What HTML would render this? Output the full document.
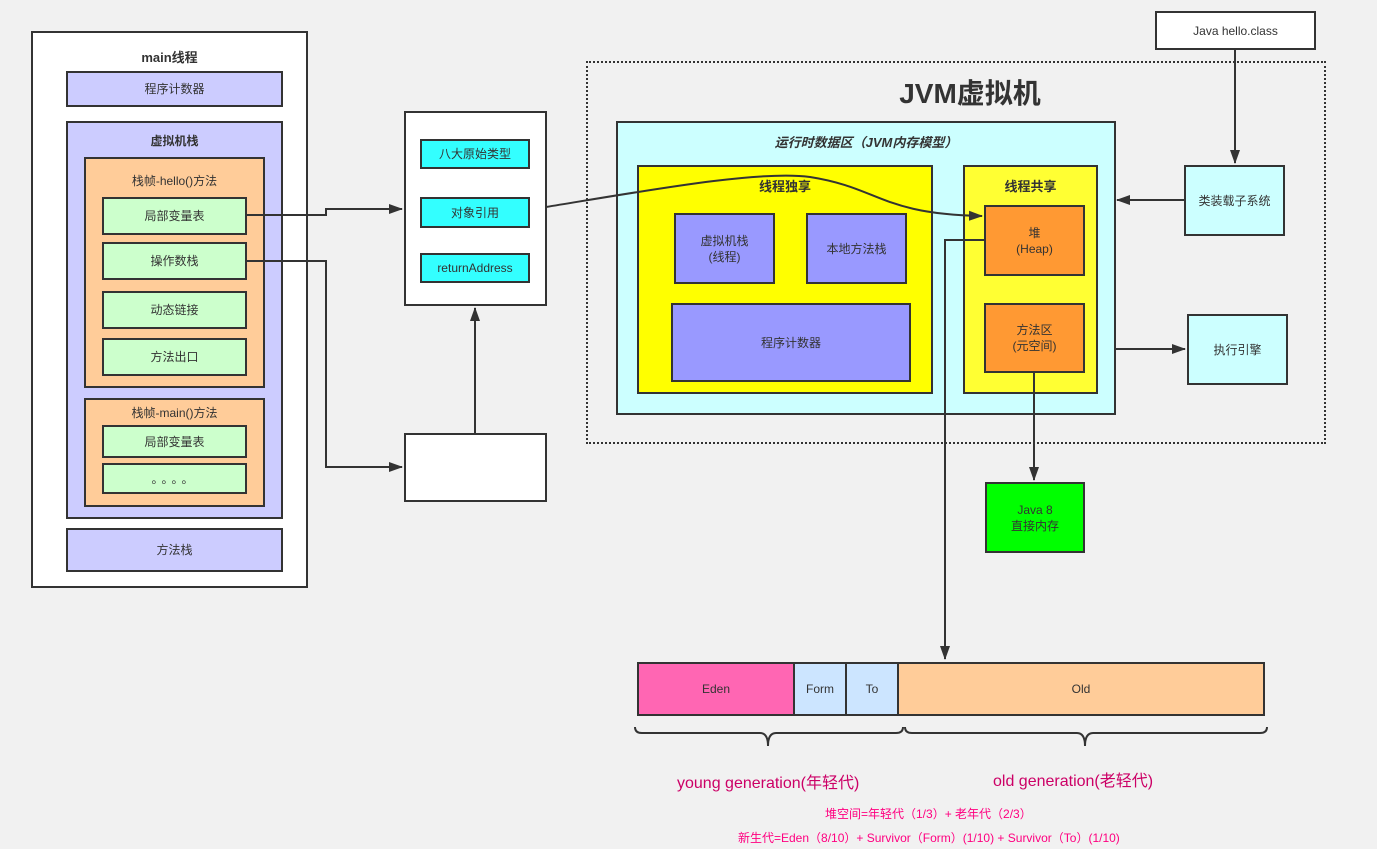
<!DOCTYPE html>
<html><head><meta charset="utf-8"><style>
body{margin:0;width:1377px;height:849px;background:#f1f1f1;position:relative;overflow:hidden;font-family:"Liberation Sans","Noto Sans CJK SC",sans-serif;font-size:12px;color:#333}
.b{position:absolute;box-sizing:border-box;border:2px solid #333;display:flex;align-items:center;justify-content:center;text-align:center;line-height:16px}
.t{position:absolute;white-space:nowrap}
</style></head><body>
<div class="b" style="left:31px;top:31px;width:277px;height:557px;background:#fff"></div>
<div class="t" style="left:31px;width:277px;text-align:center;top:47px;font-weight:bold;font-size:13px">main线程</div>
<div class="b" style="left:66px;top:71px;width:217px;height:36px;background:#ccccff">程序计数器</div>
<div class="b" style="left:66px;top:121px;width:217px;height:398px;background:#ccccff;align-items:flex-start;padding-top:10px;font-weight:bold">虚拟机栈</div>
<div class="b" style="left:84px;top:157px;width:181px;height:231px;background:#ffcc99;align-items:flex-start;padding-top:14px">栈帧-hello()方法</div>
<div class="b" style="left:102px;top:197px;width:145px;height:38px;background:#ccffcc">局部变量表</div>
<div class="b" style="left:102px;top:242px;width:145px;height:38px;background:#ccffcc">操作数栈</div>
<div class="b" style="left:102px;top:291px;width:145px;height:38px;background:#ccffcc">动态链接</div>
<div class="b" style="left:102px;top:338px;width:145px;height:38px;background:#ccffcc">方法出口</div>
<div class="b" style="left:84px;top:398px;width:181px;height:109px;background:#ffcc99;align-items:flex-start;padding-top:5px">栈帧-main()方法</div>
<div class="b" style="left:102px;top:425px;width:145px;height:33px;background:#ccffcc">局部变量表</div>
<div class="b" style="left:102px;top:463px;width:145px;height:31px;background:#ccffcc;letter-spacing:4px">。。。。</div>
<div class="b" style="left:66px;top:528px;width:217px;height:44px;background:#ccccff">方法栈</div>

<div class="b" style="left:404px;top:111px;width:143px;height:195px;background:#fff"></div>
<div class="b" style="left:420px;top:139px;width:110px;height:30px;background:#33ffff">八大原始类型</div>
<div class="b" style="left:420px;top:197px;width:110px;height:31px;background:#33ffff">对象引用</div>
<div class="b" style="left:420px;top:253px;width:110px;height:30px;background:#33ffff">returnAddress</div>
<div class="b" style="left:404px;top:433px;width:143px;height:69px;background:#fff"></div>

<div style="position:absolute;left:586px;top:61px;width:740px;height:383px;box-sizing:border-box;border:2px dotted #333"></div>
<div class="t" style="left:600px;width:740px;text-align:center;top:72px;font-size:28px;font-weight:bold;color:#333">JVM虚拟机</div>
<div class="b" style="left:616px;top:121px;width:500px;height:294px;background:#ccffff;align-items:flex-start;padding-top:12px;font-style:italic;font-weight:bold;font-size:13px">运行时数据区（JVM内存模型）</div>
<div class="b" style="left:637px;top:165px;width:296px;height:229px;background:#ffff00;align-items:flex-start;padding-top:12px;font-weight:bold;font-size:13px">线程独享</div>
<div class="b" style="left:674px;top:213px;width:101px;height:71px;background:#9999ff">虚拟机栈<br>(线程)</div>
<div class="b" style="left:806px;top:213px;width:101px;height:71px;background:#9999ff">本地方法栈</div>
<div class="b" style="left:671px;top:303px;width:240px;height:79px;background:#9999ff">程序计数器</div>
<div class="b" style="left:963px;top:165px;width:135px;height:229px;background:#ffff33;align-items:flex-start;padding-top:12px;font-weight:bold;font-size:13px">线程共享</div>
<div class="b" style="left:984px;top:205px;width:101px;height:71px;background:#ff9933">堆<br>(Heap)</div>
<div class="b" style="left:984px;top:303px;width:101px;height:70px;background:#ff9933">方法区<br>(元空间)</div>
<div class="b" style="left:1155px;top:11px;width:161px;height:39px;background:#fff">Java hello.class</div>
<div class="b" style="left:1184px;top:165px;width:101px;height:71px;background:#ccffff">类装载子系统</div>
<div class="b" style="left:1187px;top:314px;width:101px;height:71px;background:#ccffff">执行引擎</div>
<div class="b" style="left:985px;top:482px;width:100px;height:71px;background:#00ff00">Java 8<br>直接内存</div>

<div class="b" style="left:637px;top:662px;width:158px;height:54px;background:#ff66b3">Eden</div>
<div class="b" style="left:793px;top:662px;width:54px;height:54px;background:#cce5ff">Form</div>
<div class="b" style="left:845px;top:662px;width:54px;height:54px;background:#cce5ff">To</div>
<div class="b" style="left:897px;top:662px;width:368px;height:54px;background:#ffcc99">Old</div>

<svg width="1377" height="849" style="position:absolute;left:0;top:0" fill="none" stroke="#333" stroke-width="2">
<defs><marker id="a" markerWidth="14" markerHeight="12" refX="13" refY="6" orient="auto" markerUnits="userSpaceOnUse"><path d="M0,1 L14,6 L0,11 Z" fill="#333" stroke="none"/></marker></defs>
<path d="M246,215 H326 V209 H402" marker-end="url(#a)"/>
<path d="M246,261 H326 V467 H402" marker-end="url(#a)"/>
<path d="M475,433 V308" marker-end="url(#a)"/>
<path d="M546,207 C650,190 760,170 810,177 C880,188 880,214 982,216" marker-end="url(#a)"/>
<path d="M984,240 H945 V659" marker-end="url(#a)"/>
<path d="M1034,373 V480" marker-end="url(#a)"/>
<path d="M1235,50 V163" marker-end="url(#a)"/>
<path d="M1184,200 H1117" marker-end="url(#a)"/>
<path d="M1116,349 H1185" marker-end="url(#a)"/>
<path d="M635,727 Q635,733 642,733 H760 Q768,733 768,746 Q768,733 776,733 H896 Q903,733 903,727"/>
<path d="M905,727 Q905,733 912,733 H1077 Q1085,733 1085,746 Q1085,733 1093,733 H1260 Q1267,733 1267,727"/>
</svg>
<div class="t" style="left:677px;top:769px;font-size:16px;color:#cc0066">young generation(年轻代)</div>
<div class="t" style="left:993px;top:767px;font-size:16px;color:#cc0066">old generation(老轻代)</div>
<div class="t" style="left:825px;top:805px;font-size:12px;color:#ff0080">堆空间=年轻代（1/3）+ 老年代（2/3）</div>
<div class="t" style="left:738px;top:829px;font-size:12px;color:#ff0080">新生代=Eden（8/10）+ Survivor（Form）(1/10) + Survivor（To）(1/10)</div>
</body></html>
